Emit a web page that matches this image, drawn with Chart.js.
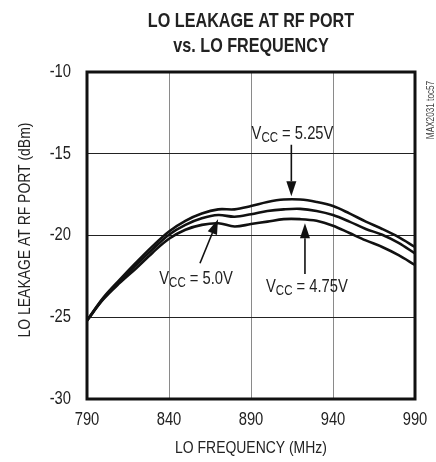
<!DOCTYPE html>
<html>
<head>
<meta charset="utf-8">
<script src="https://cdn.jsdelivr.net/npm/chart.js@4.4.0/dist/chart.umd.min.js"></script>
<style>
  html, body { margin:0; padding:0; background:#fff; }
  #wrap { width:436px; height:462px; }
</style>
</head>
<body>
<div id="wrap"><canvas id="leakChart" width="436" height="462"></canvas></div>
<script>
const FONT = "'Liberation Sans', Arial, sans-serif"
const NARROW = 0.82   // horizontal squeeze, gives an Arial Narrow look

// LO frequency (MHz) and leakage (dBm) per supply voltage
const freqs  = [790,800,810,820,830,840,850,860,870,880,890,900,910,920,930,940,950,960,970,980,990]
const vcc525 = [-25.2,-23.8,-22.7,-21.65,-20.65,-19.75,-19.1,-18.65,-18.4,-18.4,-18.2,-17.95,-17.8,-17.8,-17.95,-18.2,-18.65,-19.15,-19.6,-20.1,-20.7]
const vcc500 = [-25.2,-23.85,-22.8,-21.8,-20.85,-19.95,-19.35,-18.95,-18.75,-18.85,-18.7,-18.5,-18.4,-18.37,-18.5,-18.75,-19.15,-19.6,-19.95,-20.45,-21.1]
const vcc475 = [-25.2,-23.9,-22.9,-22.0,-21.05,-20.2,-19.65,-19.35,-19.25,-19.45,-19.3,-19.15,-19.0,-19.0,-19.1,-19.4,-19.85,-20.3,-20.7,-21.2,-21.8]
const xTicks = [790,840,890,940,990]
const yTicks = [-30,-25,-20,-15,-10]

const titleLines = ['LO LEAKAGE AT RF PORT', 'vs. LO FREQUENCY']
const xTitle = 'LO FREQUENCY (MHz)'
const yTitle = 'LO LEAKAGE AT RF PORT (dBm)'

// callouts: label position and arrow in data units
const callouts = [
  {v:'5.25V', lx:915.3, ly:-14.1, from:[914.6,-14.45], to:[914.6,-17.6]},
  {v:'5.0V',  lx:856.5, ly:-22.95, from:[858.9,-21.7], to:[869.9,-19.0]},
  {v:'4.75V', lx:924.1, ly:-23.45, from:[922.9,-22.35], to:[922.9,-19.25]}
]

function pts(ys) { return freqs.map((f,i) => ({x:f, y:ys[i]})) }

function line(ys) {
  return {data:pts(ys), borderColor:'#111', borderWidth:2.6, pointRadius:0, tension:0.35, fill:false}
}

// narrow text: x,y is the anchor, align left/center/right
function narrowText(ctx, text, x, y, font, align, baseline, squeeze) {
  const k = squeeze || NARROW
  ctx.save()
  ctx.font = font
  ctx.textAlign = 'left'
  ctx.textBaseline = baseline || 'alphabetic'
  const w = ctx.measureText(text).width * k
  let x0 = x
  if (align === 'center') x0 = x - w / 2
  else if (align === 'right') x0 = x - w
  ctx.translate(x0, y); ctx.scale(k, 1)
  ctx.fillText(text, 0, 0)
  ctx.restore()
  return w
}

function textWidth(ctx, text, font) {
  ctx.save(); ctx.font = font
  const w = ctx.measureText(text).width * NARROW
  ctx.restore(); return w
}

function drawVcc(ctx, text, cx, by) {
  const big = '18px ' + FONT, small = '14px ' + FONT
  const w1 = textWidth(ctx, 'V', big), w2 = textWidth(ctx, 'CC', small), w3 = textWidth(ctx, ' = ' + text, big)
  let x = cx - (w1 + w2 + w3) / 2
  narrowText(ctx, 'V', x, by, big, 'left'); x += w1
  narrowText(ctx, 'CC', x, by + 3, small, 'left'); x += w2
  narrowText(ctx, ' = ' + text, x, by, big, 'left')
}

function drawArrow(ctx, x1, y1, x2, y2) {
  const a = Math.atan2(y2 - y1, x2 - x1), len = 15, half = 5
  ctx.save()
  ctx.strokeStyle = '#111'; ctx.fillStyle = '#111'; ctx.lineWidth = 1.6
  ctx.beginPath(); ctx.moveTo(x1, y1)
  ctx.lineTo(x2 - len * Math.cos(a), y2 - len * Math.sin(a)); ctx.stroke()
  ctx.beginPath(); ctx.moveTo(x2, y2)
  ctx.lineTo(x2 - len * Math.cos(a) + half * Math.sin(a), y2 - len * Math.sin(a) - half * Math.cos(a))
  ctx.lineTo(x2 - len * Math.cos(a) - half * Math.sin(a), y2 - len * Math.sin(a) + half * Math.cos(a))
  ctx.closePath(); ctx.fill()
  ctx.restore()
}

const decorations = {
  id:'decorations',
  afterDraw(chart) {
    const ctx = chart.ctx, a = chart.chartArea
    const sx = chart.scales.x, sy = chart.scales.y
    ctx.fillStyle = '#222'

    // frame
    ctx.save()
    ctx.strokeStyle = '#111'; ctx.lineWidth = 3
    ctx.strokeRect(a.left, a.top, a.right - a.left, a.bottom - a.top)
    ctx.restore()

    // title, heavier and tighter than the rest
    const cx = (a.left + a.right) / 2
    narrowText(ctx, titleLines[0], cx, 27, 'bold 21px ' + FONT, 'center', 'alphabetic', 0.77)
    narrowText(ctx, titleLines[1], cx, 52, 'bold 21px ' + FONT, 'center', 'alphabetic', 0.77)

    // tick labels
    const tickFont = '18px ' + FONT
    sx.ticks.forEach(t => narrowText(ctx, String(t.value), sx.getPixelForValue(t.value), a.bottom + 21, tickFont, 'center', 'middle'))
    sy.ticks.forEach(t => narrowText(ctx, String(t.value), 71, sy.getPixelForValue(t.value), tickFont, 'right', 'middle'))

    // axis titles
    narrowText(ctx, xTitle, cx, 448, '17px ' + FONT, 'center', 'middle')
    ctx.save()
    ctx.translate(25, 230); ctx.rotate(-Math.PI / 2)
    narrowText(ctx, yTitle, 0, 0, '17px ' + FONT, 'center', 'middle')
    ctx.restore()

    // part number tag
    ctx.save()
    ctx.fillStyle = '#444'
    ctx.translate(431, 110); ctx.rotate(-Math.PI / 2)
    narrowText(ctx, 'MAX2031 toc57', 0, 0, '10px ' + FONT, 'center', 'middle')
    ctx.restore()

    callouts.forEach(c => {
      drawVcc(ctx, c.v, sx.getPixelForValue(c.lx), sy.getPixelForValue(c.ly))
      drawArrow(ctx, sx.getPixelForValue(c.from[0]), sy.getPixelForValue(c.from[1]),
        sx.getPixelForValue(c.to[0]), sy.getPixelForValue(c.to[1]))
    })
  }
}

new Chart(document.getElementById('leakChart'), {
  type:'line',
  data:{datasets:[line(vcc525), line(vcc500), line(vcc475)]},
  options:{
    responsive:false, animation:false,
    layout:{padding:{top:72, right:21, left:0, bottom:0}},
    plugins:{legend:{display:false}, tooltip:{enabled:false}},
    scales:{
      x:{
        type:'linear', min:790, max:990,
        afterBuildTicks(s) { s.ticks = xTicks.map(v => ({value:v})) },
        afterFit(s) { s.height = 63 },
        grid:{color:'#8a8a8a', lineWidth:1, drawTicks:false},
        border:{display:false},
        ticks:{display:false}
      },
      y:{
        min:-30, max:-10,
        afterBuildTicks(s) { s.ticks = yTicks.map(v => ({value:v})) },
        afterFit(s) { s.width = 87 },
        grid:{color:'#222', lineWidth:1, drawTicks:false},
        border:{display:false},
        ticks:{display:false}
      }
    }
  },
  plugins:[decorations]
})
</script>
</body>
</html>
